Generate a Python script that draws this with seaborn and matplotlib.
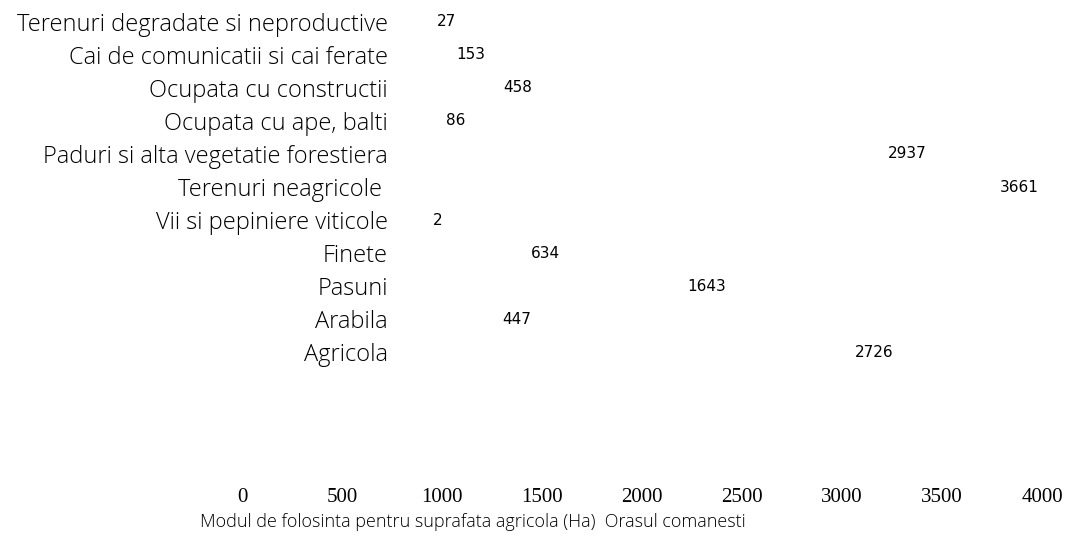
import matplotlib
matplotlib.use("Agg")
import matplotlib.pyplot as plt
import seaborn as sns
import pandas as pd

categories = [
    "Terenuri degradate si neproductive",
    "Cai de comunicatii si cai ferate",
    "Ocupata cu constructii",
    "Ocupata cu ape, balti",
    "Paduri si alta vegetatie forestiera",
    "Terenuri neagricole ",
    "Vii si pepiniere viticole",
    "Finete",
    "Pasuni",
    "Arabila",
    "Agricola",
]
values = [27, 153, 458, 86, 2937, 3661, 2, 634, 1643, 447, 2726]
tick_values = [0, 500, 1000, 1500, 2000, 2500, 3000, 3500, 4000]
xlabel = "Modul de folosinta pentru suprafata agricola (Ha)  Orasul comanesti"

sns.set_theme(style="white")
plt.rcParams["font.family"] = ["Open Sans", "DejaVu Sans"]
plt.rcParams["text.color"] = "black"
plt.rcParams["xtick.color"] = "black"
plt.rcParams["ytick.color"] = "black"

df = pd.DataFrame({"cat": categories, "val": values})

W, H = 1067, 543
fig = plt.figure(figsize=(W / 100, H / 100), dpi=100)
ax = fig.add_axes([427 / W, 1 - 369 / H, 620 / W, 364 / H])
sns.barplot(data=df, x="val", y="cat", orient="h", color="white", ax=ax,
            width=0.6, saturation=1)
ax.set_xlim(0, 4000)
ax.set_xlabel("")
ax.set_ylabel("")
ax.set_xticks([])
for s in ax.spines.values():
    s.set_visible(False)
ax.tick_params(axis="y", length=0, pad=28, labelsize=17, labelcolor="black")
for lab in ax.get_yticklabels():
    lab.set_fontweight("light")
for c in ax.containers:
    ax.bar_label(c, padding=4, fontsize=11, color="black",
                 family=["Liberation Sans Narrow", "DejaVu Sans"])

# tick axis (drawn offset, as in the reference)
ax2 = fig.add_axes([242 / W, 1 - 488 / H, 800 / W, 0.0001])
ax2.set_xlim(0, 4000)
ax2.set_xticks(tick_values)
ax2.set_xticklabels([str(t) for t in tick_values],
                    family=["Liberation Serif", "DejaVu Serif"], fontsize=15,
                    color="black")
ax2.set_yticks([])
for s in ax2.spines.values():
    s.set_visible(False)
ax2.tick_params(axis="x", length=0, pad=0)
ax2.patch.set_visible(False)

fig.text(473 / W, 1 - 522 / H, xlabel, ha="center", va="center",
         fontsize=13, fontweight="light", color="black")

fig.savefig("out.png", dpi=100)
